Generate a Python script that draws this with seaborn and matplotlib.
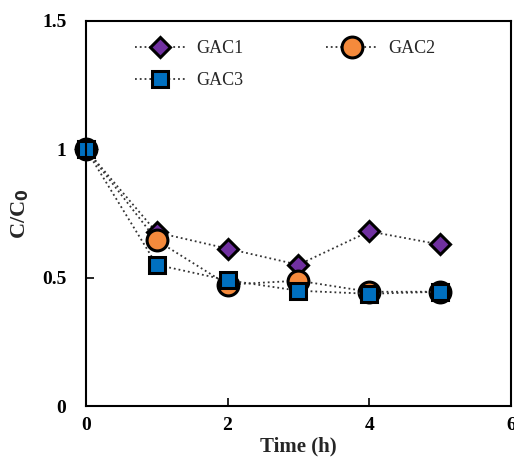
import matplotlib
matplotlib.use("Agg")
import matplotlib.pyplot as plt
import seaborn as sns
import pandas as pd

time_h = [0, 1, 2, 3, 4, 5]
gac1 = [1.0, 0.676, 0.613, 0.55, 0.68, 0.629]
gac2 = [1.0, 0.645, 0.473, 0.488, 0.445, 0.445]
gac3 = [1.0, 0.55, 0.49, 0.449, 0.437, 0.445]
series_names = ["GAC1", "GAC2", "GAC3"]

sns.set_theme(style="ticks")
plt.rcParams['font.family'] = ['Liberation Serif', 'DejaVu Serif']
plt.rcParams['font.weight'] = 'bold'

fig = plt.figure(figsize=(5.14, 4.58), dpi=100)
ax = fig.add_axes([0.167, 0.1135, 0.827, 0.841])

styles = {
    "GAC1": dict(marker="D", color="#7030A0", ms=10.5),
    "GAC2": dict(marker="o", color="#F58A3C", ms=15),
    "GAC3": dict(marker="s", color="#0070C0", ms=12),
}
for name, vals in zip(series_names, [gac1, gac2, gac3]):
    df = pd.DataFrame({"t": time_h, "c": vals})
    st = styles[name]
    sns.lineplot(data=df, x="t", y="c", ax=ax, color="#333333", linestyle=":",
                 linewidth=1.3, marker=st["marker"], markersize=st["ms"],
                 markerfacecolor=st["color"], markeredgecolor="black",
                 markeredgewidth=2.2, label=name, clip_on=False)

ax.set_xlim(0, 6)
ax.set_ylim(0, 1.5)
ax.set_xticks([0, 2, 4, 6])
ax.set_yticks([0, 0.5, 1, 1.5])
ax.set_yticklabels(["0", "0.5", "1", "1.5"])
ax.tick_params(direction="in", length=6, width=1.2, labelsize=14, colors="black")
for lab in ax.get_xticklabels() + ax.get_yticklabels():
    lab.set_fontweight("bold")
ax.tick_params(axis="y", pad=14)
ax.tick_params(axis="x", pad=8)
for sp in ax.spines.values():
    sp.set_linewidth(1.5)
    sp.set_color("black")
ax.set_xlabel("Time (h)", fontsize=15, fontweight="bold", labelpad=2)
ax.set_ylabel("C/C$_\\mathbf{0}$", fontsize=16, fontweight="bold", labelpad=8)

handles, labels = ax.get_legend_handles_labels()
order = [0, 2, 1]
leg = ax.legend([handles[i] for i in order], [labels[i] for i in order],
                loc="upper left", bbox_to_anchor=(0.115, 0.95), ncol=2, frameon=False,
                fontsize=13, handlelength=2.8, handletextpad=0.6,
                columnspacing=4.6, labelspacing=0.85, borderpad=0, borderaxespad=0)
for t in leg.get_texts():
    t.set_fontweight("normal")

fig.savefig("out.png", dpi=100)
